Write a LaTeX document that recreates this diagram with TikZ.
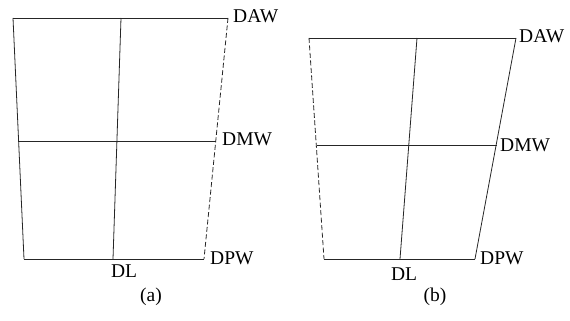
\documentclass[tikz,border=0pt]{standalone}
\usepackage{fontspec}
\setmainfont{Liberation Serif}
\begin{document}
\begin{tikzpicture}[x=1pt,y=-1pt,
  edge/.style={line width=0.8pt,black!85},
  dashedge/.style={line width=0.8pt,black!85,dash pattern=on 5pt off 2.5pt},
  lab/.style={inner sep=0pt,font=\fontsize{19.5}{22}\selectfont},
  labw/.style={lab,anchor=west}]
\useasboundingbox (0,0) rectangle (570,321);
% panel (a)
\coordinate (aTL) at (13,18); \coordinate (aTR) at (228,18);
\coordinate (aBL) at (24,259); \coordinate (aBR) at (204,259);
\coordinate (aML) at (18.6,141); \coordinate (aMR) at (216.4,141);
\coordinate (aTM) at (121,18); \coordinate (aBM) at (113,259);
\draw[edge] (aTL) -- (aTR);
\draw[edge] (aBL) -- (aBR);
\draw[edge] (aTL) -- (aBL);
\draw[dashedge] (aTR) -- (aBR);
\draw[edge] (aML) -- (aMR);
\draw[edge] (aTM) -- (aBM);
\node[labw] (aDAW) at (233,16) {DAW};
\node[labw] (aDMW) at (222,139) {DMW};
\node[labw] (aDPW) at (210,258) {DPW};
\node[lab] (aDL) at (124,271) {DL};
\node[lab] (acap) at (151,297) {(a)};
% panel (b)
\coordinate (bTL) at (309,38); \coordinate (bTR) at (516,38);
\coordinate (bBL) at (324,259); \coordinate (bBR) at (475,259);
\coordinate (bML) at (316.5,145); \coordinate (bMR) at (496.9,145);
\coordinate (bTM) at (417,38); \coordinate (bBM) at (400,259);
\draw[edge] (bTL) -- (bTR);
\draw[edge] (bBL) -- (bBR);
\draw[dashedge] (bTL) -- (bBL);
\draw[edge] (bTR) -- (bBR);
\draw[edge] (bML) -- (bMR);
\draw[edge] (bTM) -- (bBM);
\node[labw] (bDAW) at (519,36) {DAW};
\node[labw] (bDMW) at (500,145) {DMW};
\node[labw] (bDPW) at (480,258) {DPW};
\node[lab] (bDL) at (404,274) {DL};
\node[lab] (bcap) at (435,297) {(b)};
\end{tikzpicture}
\end{document}
